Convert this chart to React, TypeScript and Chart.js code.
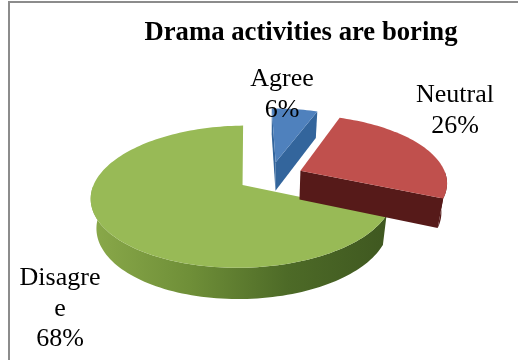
import React, { useEffect, useRef } from "react";
import { Chart, registerables } from "chart.js";

Chart.register(...registerables);

const categories = ["Agree", "Neutral", "Disagree"];
const shares = [6, 26, 68];
const chartTitle = "Drama activities are boring";

const topColors = ["#4f81bd", "#c0504d", "#98ba56"];
const rimColors = [
  ["#3a6aa3", "#2f5c92"],
  ["#561a19", "#561a19"],
  ["#8aa94a", "#6f8f38", "#4d6a27", "#3f5820"],
];
const edgeColors = ["#33659c", "#561a19", "#55752b"];
const frameColor = "#8c8c8c";

const SERIF = '"Liberation Serif", "Times New Roman", serif';
const LABEL_WRAP = 84;
const LINE_STEP = 30.5;
const labelAnchors = [
  { x: 282, y: 86 },
  { x: 455, y: 102 },
  { x: 60, y: 285 },
];

// Tilt of the disc: perspective strength, vertical squash and height of the wall.
const PERSPECTIVE = 0.16;
const SQUASH = 66 / 145;
const BASE_SHRINK = 0.968;

type Pt = { x: number; y: number };

function wrapByWidth(ctx: CanvasRenderingContext2D, text: string, max: number) {
  const lines: string[] = [];
  let line = "";
  for (const ch of text) {
    if (line && ctx.measureText(line + ch).width > max) {
      lines.push(line);
      line = ch;
    } else {
      line += ch;
    }
  }
  lines.push(line);
  return lines;
}

// Draws the library's arc elements as a tilted, extruded disc.
const tiltedDisc = {
  id: "tiltedDisc",
  beforeDatasetDraw(chart: any) {
    const { ctx } = chart;
    const arcs = chart.getDatasetMeta(0).data;
    const paint = [0, 2, 1];
    for (const i of paint) {
      const arc = arcs[i];
      const { x: cx, y: cy, outerRadius: R, startAngle, endAngle } = arc.getProps(
        ["x", "y", "outerRadius", "startAngle", "endAngle"],
        true
      );
      const off = arc.options.offset;
      const mid = (startAngle + endAngle) / 2;
      const ou = (Math.cos(mid) * off) / R;
      const ov = -(Math.sin(mid) * off) / R;

      const top = (u: number, v: number): Pt => {
        const w = 1 + PERSPECTIVE * v;
        return { x: cx + (R * u) / w, y: cy - (R * SQUASH * v) / w };
      };
      const base = (u: number, v: number): Pt => {
        const p = top(u, v);
        return { x: cx + (p.x - cx) * BASE_SHRINK, y: p.y + 29 - 2 * v };
      };
      const rim = (a: number) => [ou + Math.cos(a), ov - Math.sin(a)] as const;

      const steps = Math.max(8, Math.ceil((endAngle - startAngle) / 0.03));
      const angles: number[] = [];
      for (let s = 0; s <= steps; s++) angles.push(startAngle + ((endAngle - startAngle) * s) / steps);

      const trace = (pts: Pt[]) => {
        ctx.beginPath();
        pts.forEach((p, k) => (k ? ctx.lineTo(p.x, p.y) : ctx.moveTo(p.x, p.y)));
        ctx.closePath();
      };

      // Outer wall on the near half of the rim, shaded across its width.
      const near = angles.filter((a) => Math.sin(a) >= 0);
      if (near.length > 1) {
        const topRim = near.map((a) => top(...rim(a)));
        const baseRim = near.map((a) => base(...rim(a)));
        const xs = topRim.map((p) => p.x);
        const grad = ctx.createLinearGradient(Math.min(...xs), 0, Math.max(...xs), 0);
        rimColors[i].forEach((c, k) => grad.addColorStop(k / (rimColors[i].length - 1), c));
        ctx.fillStyle = grad;
        trace([...topRim, ...baseRim.reverse()]);
        ctx.fill();
      }

      // Cut faces that turn toward the viewer.
      const cutWall = (a: number) => {
        const [u, v] = rim(a);
        trace([top(ou, ov), top(u, v), base(u, v), base(ou, ov)]);
        ctx.fillStyle = edgeColors[i];
        ctx.fill();
      };
      if (Math.cos(endAngle) > 0.01) cutWall(endAngle);
      if (-Math.cos(startAngle) > 0.01) cutWall(startAngle);

      // Top face.
      trace([top(ou, ov), ...angles.map((a) => top(...rim(a)))]);
      ctx.fillStyle = arc.options.backgroundColor;
      ctx.fill();
    }
    return false;
  },
  afterDraw(chart: any) {
    const { ctx, width, height } = chart;
    ctx.save();
    ctx.textAlign = "center";
    ctx.textBaseline = "alphabetic";

    ctx.fillStyle = "#000";
    ctx.font = `bold 26.7px ${SERIF}`;
    ctx.fillText(chartTitle, 301, 40);

    ctx.font = `26px ${SERIF}`;
    categories.forEach((name, i) => {
      const lines = [...wrapByWidth(ctx, name, LABEL_WRAP), `${shares[i]}%`];
      lines.forEach((line, k) => ctx.fillText(line, labelAnchors[i].x, labelAnchors[i].y + k * LINE_STEP));
    });

    ctx.strokeStyle = frameColor;
    ctx.lineWidth = 2;
    ctx.beginPath();
    ctx.moveTo(9, height);
    ctx.lineTo(9, 2);
    ctx.lineTo(width, 2);
    ctx.stroke();
    ctx.restore();
  },
};

export default function App() {
  const ref = useRef<HTMLCanvasElement>(null);
  useEffect(() => {
    const chart = new Chart(ref.current!, {
      type: "pie",
      data: {
        labels: categories,
        datasets: [{ data: shares, backgroundColor: topColors, offset: 33, borderWidth: 0 }],
      },
      options: {
        responsive: false,
        animation: false,
        rotation: -1.5,
        layout: { padding: { left: 30, right: 7, top: 14, bottom: 21 } },
        plugins: { legend: { display: false }, tooltip: { enabled: false } },
      },
      plugins: [tiltedDisc],
    });
    return () => chart.destroy();
  }, []);
  return (
    <canvas
      ref={ref}
      width={518}
      height={360}
      style={{ position: "fixed", left: 0, top: 0, width: 518, height: 360, background: "#fff" }}
    />
  );
}
